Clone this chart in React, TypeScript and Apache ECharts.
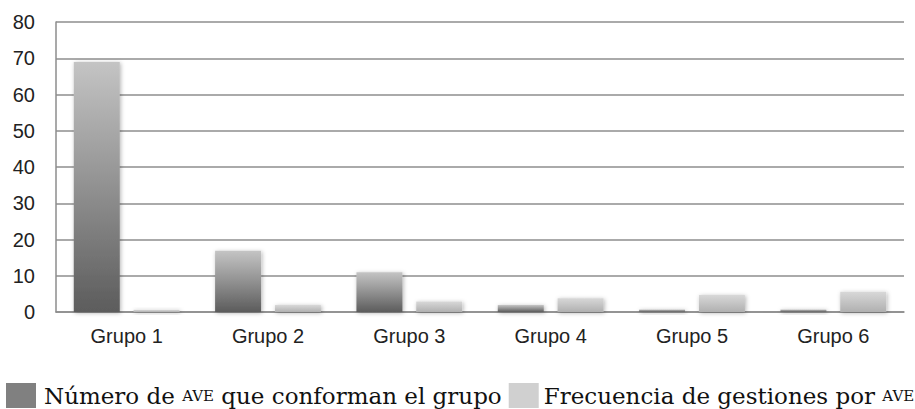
import React, { useEffect, useRef } from "react";
import * as echarts from "echarts";

const categories = ["Grupo 1", "Grupo 2", "Grupo 3", "Grupo 4", "Grupo 5", "Grupo 6"];
const numeroAve = [69, 16.9, 11, 1.9, 0.7, 0.7];
const frecuencia = [0.6, 1.9, 2.9, 3.8, 4.7, 5.6];
const yTicks = { min: 0, max: 80, interval: 10 };
const seriesNames = ["Número de AVE que conforman el grupo", "Frecuencia de gestiones por AVE"];

export default function App() {
  const ref = useRef<HTMLDivElement>(null);
  useEffect(() => {
    if (!ref.current) return;
    const chart = echarts.init(ref.current, undefined, { renderer: "svg" });
    const axisFont = { fontFamily: "Liberation Sans, Arial, sans-serif", fontSize: 20, color: "#222" };
    const legendFont = {
      fontFamily: "DejaVu Serif, serif",
      fontSize: 23,
      color: "#111",
      rich: { sc: { fontFamily: "DejaVu Serif, serif", fontSize: 15, color: "#111" } },
    };
    chart.setOption({
      animation: false,
      backgroundColor: "#fff",
      grid: { left: 56, right: 11, top: 22, bottom: 97, containLabel: false },
      legend: {
        left: 6,
        top: 383,
        width: 1200,
        padding: 0,
        itemWidth: 30,
        itemHeight: 25,
        itemGap: 7,
        icon: "rect",
        selectedMode: false,
        data: [
          { name: seriesNames[0], itemStyle: { color: "#808080" }, textStyle: { ...legendFont, padding: [0, 0, 0, 3] } },
          { name: seriesNames[1], itemStyle: { color: "#d0d0d0" }, textStyle: { ...legendFont } },
        ],
        formatter: (name: string) => name.replace("AVE", "{sc|AVE}"),
        textStyle: legendFont,
      },
      xAxis: {
        type: "category",
        data: categories,
        axisTick: { show: false },
        axisLine: { show: true, lineStyle: { color: "#8c8c8c", width: 1.5 } },
        axisLabel: { ...axisFont, margin: 14 },
      },
      yAxis: {
        type: "value",
        ...yTicks,
        axisLine: { show: true, lineStyle: { color: "#8c8c8c", width: 1.5 } },
        axisTick: { show: false },
        axisLabel: { ...axisFont, margin: 21 },
        splitLine: {
          show: true,
          lineStyle: { color: "#8e8e8e", width: 1.5 },
        },
      },
      series: [
        {
          name: seriesNames[0],
          type: "bar",
          data: numeroAve,
          barWidth: 46,
          barGap: "30%",
          itemStyle: {
            color: new echarts.graphic.LinearGradient(0, 0, 0, 1, [
              { offset: 0, color: "#c4c4c4" },
              { offset: 0.5, color: "#919191" },
              { offset: 1, color: "#5c5c5c" },
            ]),
            shadowColor: "rgba(0,0,0,0.3)",
            shadowBlur: 4,
            shadowOffsetX: 1,
            shadowOffsetY: 1,
          },
        },
        {
          name: seriesNames[1],
          type: "bar",
          data: frecuencia,
          barWidth: 46,
          barGap: "30%",
          itemStyle: {
            color: new echarts.graphic.LinearGradient(0, 0, 0, 1, [
              { offset: 0, color: "#d8d8d8" },
              { offset: 1, color: "#b0b0b0" },
            ]),
            shadowColor: "rgba(0,0,0,0.3)",
            shadowBlur: 4,
            shadowOffsetX: 1,
            shadowOffsetY: 1,
          },
        },
      ],
    });
    return () => chart.dispose();
  }, []);
  return <div ref={ref} style={{ width: 915, height: 409, position: "absolute", left: 0, top: 0 }} />;
}
